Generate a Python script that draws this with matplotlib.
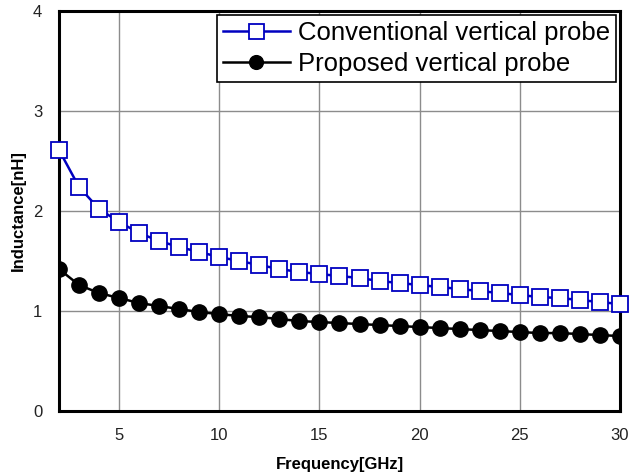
import matplotlib.pyplot as plt
import numpy as np

plt.rcParams['font.family'] = ['Liberation Sans', 'DejaVu Sans']

# Frequency points (GHz)
freq = list(range(2, 31))

# Inductance [nH]
conventional = [2.61, 2.24, 2.02, 1.89, 1.78, 1.70, 1.64, 1.59, 1.54, 1.50,
                1.46, 1.42, 1.39, 1.37, 1.35, 1.33, 1.30, 1.28, 1.26, 1.24,
                1.22, 1.20, 1.18, 1.16, 1.14, 1.13, 1.11, 1.09, 1.07]
proposed = [1.42, 1.26, 1.18, 1.13, 1.08, 1.05, 1.02, 0.99, 0.97, 0.95,
            0.94, 0.92, 0.90, 0.89, 0.88, 0.87, 0.86, 0.85, 0.84, 0.83,
            0.82, 0.81, 0.80, 0.79, 0.78, 0.78, 0.77, 0.76, 0.75]

xticks = [5, 10, 15, 20, 25, 30]
yticks = [0, 1, 2, 3, 4]

fig = plt.figure(figsize=(6.31, 4.72), dpi=100)
ax = fig.add_axes([0.0935, 0.129, 0.889, 0.848])

ax.plot(freq, conventional, color='#0000c0', lw=1.8, marker='s', markersize=12,
        markerfacecolor='white', markeredgecolor='#0000c0', markeredgewidth=1.3,
        label='Conventional vertical probe', clip_on=False, zorder=3)
ax.plot(freq, proposed, color='black', lw=1.8, marker='o', markersize=11,
        markerfacecolor='black', markeredgecolor='black',
        label='Proposed vertical probe', clip_on=True, zorder=3)

ax.set_xlim(2, 30)
ax.set_ylim(0, 4)
ax.set_xticks(xticks)
ax.set_yticks(yticks)
ax.tick_params(length=0, labelsize=12, labelcolor='#222222', pad=12)
ax.grid(True, color='#8c8c8c', lw=1)
ax.set_axisbelow(True)
for s in ax.spines.values():
    s.set_linewidth(2.2)

ax.set_xlabel('Frequency[GHz]', fontsize=12, fontweight='bold', labelpad=10)
ax.set_ylabel('Inductance[nH]', fontsize=12, fontweight='bold', labelpad=5)

leg = ax.legend(loc='upper right', fontsize=18.5, frameon=True, fancybox=False,
                edgecolor='black', framealpha=1, borderpad=0.25, labelspacing=0.25,
                handlelength=2.6, handletextpad=0.3, borderaxespad=0.15,
                markerscale=0.9)
leg.get_frame().set_linewidth(1.2)

fig.savefig('out.png', dpi=100)
